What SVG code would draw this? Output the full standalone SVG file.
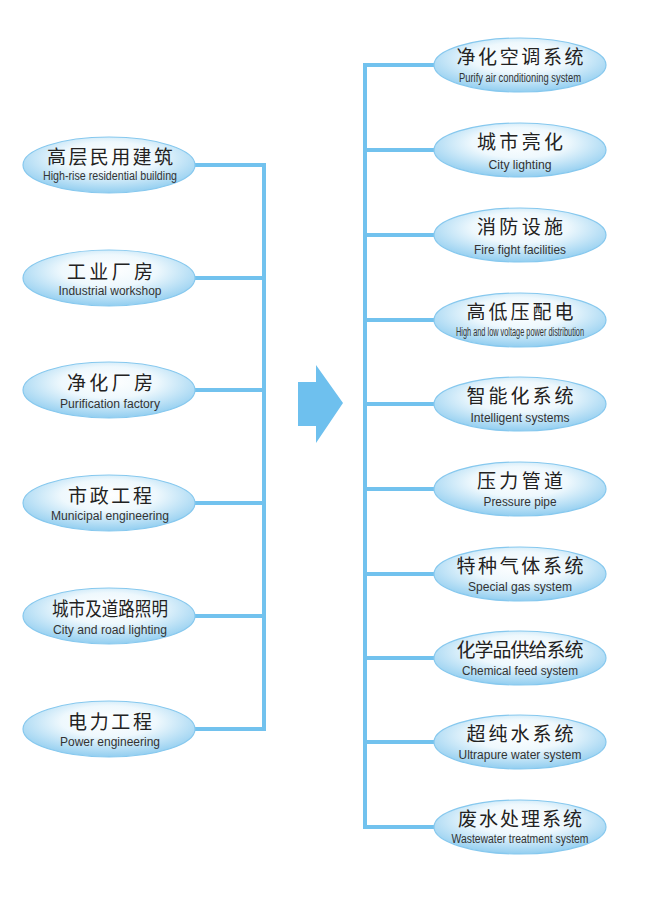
<svg xmlns="http://www.w3.org/2000/svg" width="650" height="899" viewBox="0 0 650 899">
<defs>
<radialGradient id="g" cx="50%" cy="38%" r="62%" fx="50%" fy="35%">
<stop offset="0" stop-color="#ffffff"/>
<stop offset="0.45" stop-color="#eef8fd"/>
<stop offset="1" stop-color="#92cef0"/>
</radialGradient>
<style>
.e{fill:url(#g);stroke:#86c8ee;stroke-width:1.2}
.c{stroke:#72c2ee;stroke-width:4;fill:none;stroke-linecap:butt}
.zh{font-family:"Noto Sans CJK SC","Noto Sans CJK JP",sans-serif;font-size:19px;fill:#222;text-anchor:middle}
.en{font-family:"Liberation Sans",Arial,sans-serif;font-size:12px;fill:#333;text-anchor:middle}
</style>
</defs>
<rect width="650" height="899" fill="#ffffff"/>
<g id="connectors">
<path class="c" d="M195 165H264M195 278H264M195 390H264M195 503H264M195 616H264M195 729H264M264 163V731"/>
<path class="c" d="M365 63V829M365 65H434M365 150H434M365 235H434M365 320H434M365 404H434M365 489H434M365 574H434M365 658H434M365 742H434M365 827H434"/>
</g>
<g id="arrow">
<path d="M298 382H316V365L343 403L316 443V426H298Z" fill="#6ec0ee"/>
</g>
<g id="l1"><ellipse class="e" cx="109" cy="165" rx="86" ry="28"/><text class="zh" x="110" y="164" textLength="126" lengthAdjust="spacing">高层民用建筑</text><text class="en" x="110" y="180" textLength="134" lengthAdjust="spacingAndGlyphs">High-rise residential building</text></g>
<g id="l2"><ellipse class="e" cx="109" cy="278" rx="86" ry="28"/><text class="zh" x="110" y="279" textLength="86" lengthAdjust="spacing">工业厂房</text><text class="en" x="110" y="295" textLength="103" lengthAdjust="spacingAndGlyphs">Industrial workshop</text></g>
<g id="l3"><ellipse class="e" cx="109" cy="390" rx="86" ry="28"/><text class="zh" x="110" y="390" textLength="86" lengthAdjust="spacing">净化厂房</text><text class="en" x="110" y="408" textLength="100" lengthAdjust="spacingAndGlyphs">Purification factory</text></g>
<g id="l4"><ellipse class="e" cx="109" cy="503" rx="86" ry="28"/><text class="zh" x="110" y="503" textLength="84" lengthAdjust="spacing">市政工程</text><text class="en" x="110" y="520" textLength="118" lengthAdjust="spacingAndGlyphs">Municipal engineering</text></g>
<g id="l5"><ellipse class="e" cx="109" cy="616" rx="86" ry="28"/><text class="zh" x="110" y="616" textLength="116" lengthAdjust="spacingAndGlyphs">城市及道路照明</text><text class="en" x="110" y="634" textLength="114" lengthAdjust="spacingAndGlyphs">City and road lighting</text></g>
<g id="l6"><ellipse class="e" cx="109" cy="729" rx="86" ry="28"/><text class="zh" x="110" y="729" textLength="84" lengthAdjust="spacing">电力工程</text><text class="en" x="110" y="746" textLength="100" lengthAdjust="spacingAndGlyphs">Power engineering</text></g>
<g id="r1"><ellipse class="e" cx="520" cy="65" rx="86" ry="27"/><text class="zh" x="520" y="64" textLength="127" lengthAdjust="spacing">净化空调系统</text><text class="en" x="520" y="82" font-size="11" textLength="122" lengthAdjust="spacingAndGlyphs">Purify air conditioning system</text></g>
<g id="r2"><ellipse class="e" cx="520" cy="150" rx="86" ry="27"/><text class="zh" x="520" y="149" textLength="86" lengthAdjust="spacing">城市亮化</text><text class="en" x="520" y="169" font-size="11" textLength="63" lengthAdjust="spacingAndGlyphs">City lighting</text></g>
<g id="r3"><ellipse class="e" cx="520" cy="235" rx="86" ry="27"/><text class="zh" x="520" y="234" textLength="86" lengthAdjust="spacing">消防设施</text><text class="en" x="520" y="254" font-size="11" textLength="92" lengthAdjust="spacingAndGlyphs">Fire fight facilities</text></g>
<g id="r4"><ellipse class="e" cx="520" cy="320" rx="86" ry="27"/><text class="zh" x="520" y="319" textLength="107" lengthAdjust="spacing">高低压配电</text><text class="en" x="520" y="336" font-size="10" textLength="128" lengthAdjust="spacingAndGlyphs">High and low voltage power distribution</text></g>
<g id="r5"><ellipse class="e" cx="520" cy="404" rx="86" ry="27"/><text class="zh" x="520" y="403" textLength="107" lengthAdjust="spacing">智能化系统</text><text class="en" x="520" y="422" font-size="11" textLength="99" lengthAdjust="spacingAndGlyphs">Intelligent systems</text></g>
<g id="r6"><ellipse class="e" cx="520" cy="489" rx="86" ry="27"/><text class="zh" x="520" y="488" textLength="86" lengthAdjust="spacing">压力管道</text><text class="en" x="520" y="506" font-size="11" textLength="73" lengthAdjust="spacingAndGlyphs">Pressure pipe</text></g>
<g id="r7"><ellipse class="e" cx="520" cy="574" rx="86" ry="27"/><text class="zh" x="520" y="573" textLength="127" lengthAdjust="spacing">特种气体系统</text><text class="en" x="520" y="591" font-size="11" textLength="104" lengthAdjust="spacingAndGlyphs">Special gas system</text></g>
<g id="r8"><ellipse class="e" cx="520" cy="658" rx="86" ry="27"/><text class="zh" x="520" y="657" textLength="127" lengthAdjust="spacing">化学品供给系统</text><text class="en" x="520" y="675" font-size="11" textLength="116" lengthAdjust="spacingAndGlyphs">Chemical feed system</text></g>
<g id="r9"><ellipse class="e" cx="520" cy="742" rx="86" ry="27"/><text class="zh" x="520" y="741" textLength="107" lengthAdjust="spacing">超纯水系统</text><text class="en" x="520" y="759" font-size="11" textLength="123" lengthAdjust="spacingAndGlyphs">Ultrapure water system</text></g>
<g id="r10"><ellipse class="e" cx="520" cy="827" rx="86" ry="27"/><text class="zh" x="520" y="826" textLength="124" lengthAdjust="spacing">废水处理系统</text><text class="en" x="520" y="843" font-size="11" textLength="137" lengthAdjust="spacingAndGlyphs">Wastewater treatment system</text></g>
</svg>
